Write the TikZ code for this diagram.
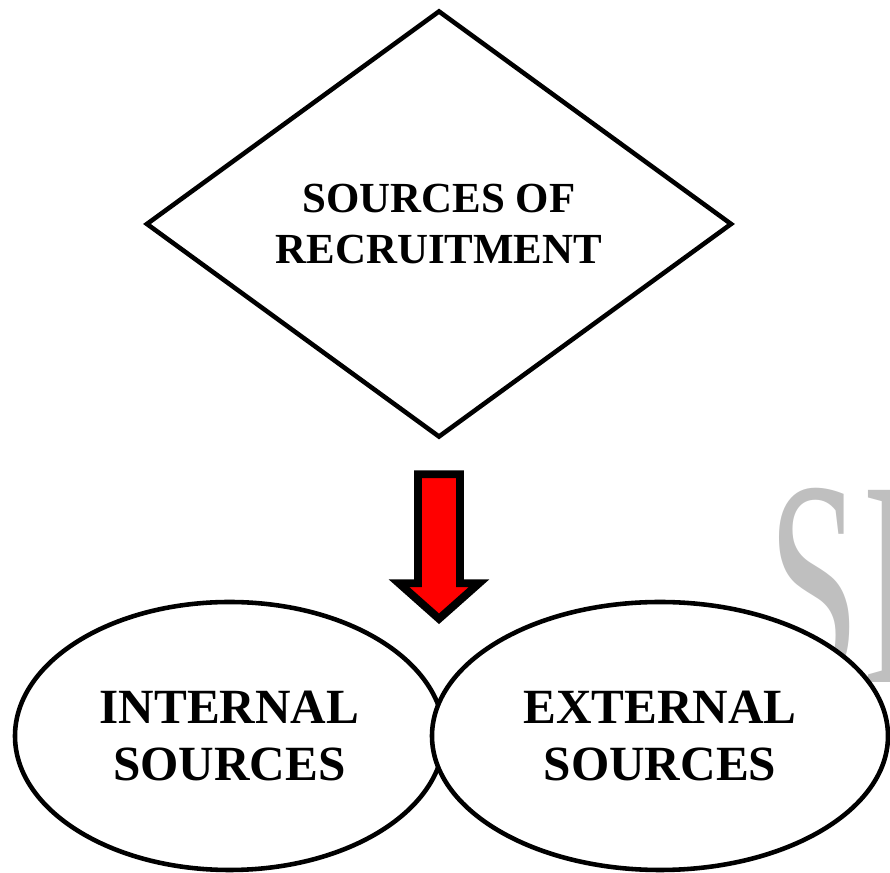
\documentclass[tikz,border=0pt]{standalone}
\usepackage{fontspec}
\setmainfont{Liberation Serif}
\usetikzlibrary{shapes.geometric}

\tikzset{
  srcbox/.style={draw, diamond, line width=2.6pt, minimum width=11.72cm,
    minimum height=8.54cm, inner sep=0pt, align=center,
    font=\fontsize{24.4}{29.5}\selectfont\bfseries},
  srcoval/.style={draw, ellipse, fill=white, line width=2.6pt,
    minimum height=5.36cm, inner sep=0pt, align=center,
    font=\fontsize{28}{33}\selectfont\bfseries},
  bigarrow/.style={draw=black, fill=red, line width=4.5pt}
}

\begin{document}
\begin{tikzpicture}
        \useasboundingbox (0,0) rectangle (17.8,17.46);

        % faded mark, half hidden by the right oval
        \node [anchor=north west, inner sep=0pt, text=gray!50, xscale=0.56,
               font=\fontsize{167}{167}\selectfont] (mark) at (15.36,7.7) {S\hspace{0.1cm}I};

        \node [srcbox] (src) at (8.78,12.98) {SOURCES OF\\RECRUITMENT};

        % red arrow under the diamond
        \begin{scope}[shift={(src.south)}]
        \draw [bigarrow] (-0.42,-0.69) -- (0.42,-0.69) -- (0.42,-2.87)
              -- (0.8,-2.87) -- (0,-3.58) -- (-0.8,-2.87)
              -- (-0.42,-2.87) -- cycle;
        \end{scope}

        \node [srcoval, minimum width=8.58cm] (intl) at (4.59,2.74) {INTERNAL\\SOURCES};
        \node [srcoval, minimum width=9.12cm] (extl) at (13.2,2.74) {EXTERNAL\\SOURCES};
\end{tikzpicture}
\end{document}
